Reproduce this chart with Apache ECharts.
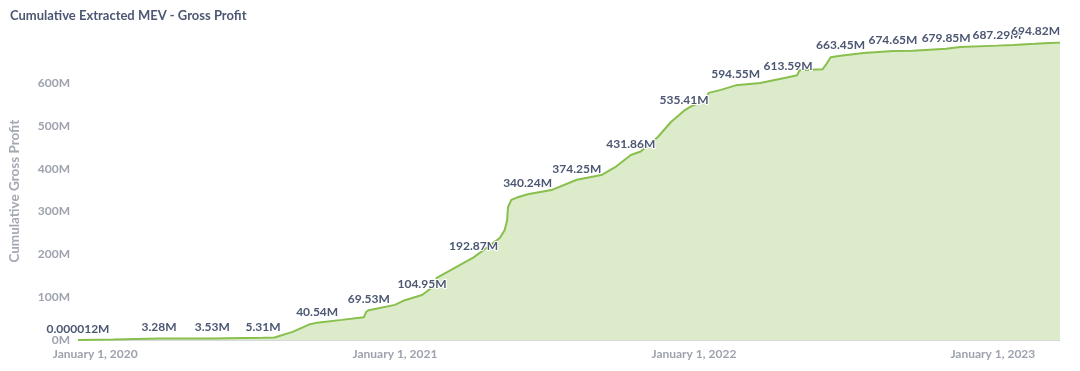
<!DOCTYPE html>
<html><head><meta charset="utf-8">
<script src="https://cdn.jsdelivr.net/npm/echarts/dist/echarts.min.js"></script>
<style>html,body{margin:0;padding:0;background:#fff}#c{width:1080px;height:371px}</style>
</head><body><div id="c"></div>
<script>
// Cumulative gross profit, in millions (M)
const dates = [
  '2019-12-11','2020-01-23','2020-02-20','2020-03-19','2020-04-23','2020-05-23','2020-06-29','2020-07-24',
  '2020-08-07','2020-08-29','2020-09-18','2020-09-28','2020-10-28','2020-11-24','2020-11-27','2020-11-30',
  '2021-01-01','2021-01-13','2021-02-03','2021-02-17','2021-02-21','2021-04-07','2021-05-09','2021-05-15',
  '2021-05-18','2021-05-19','2021-05-23','2021-05-29','2021-06-12','2021-07-11','2021-08-11','2021-09-10',
  '2021-09-28','2021-10-16','2021-10-28','2021-11-18','2021-12-04','2021-12-20','2021-12-28','2022-01-15',
  '2022-01-19','2022-02-03','2022-02-21','2022-03-23','2022-04-26','2022-05-07','2022-05-10','2022-06-07',
  '2022-06-12','2022-06-17','2022-06-29','2022-07-27','2022-09-01','2022-09-25','2022-11-05','2022-11-22',
  '2023-01-06','2023-01-26','2023-02-21','2023-03-24'
];
const values = [
  0.000012, 1.2, 2.5, 3.28, 3.4, 3.53, 4.6, 5.31,
  6.0, 19, 36, 40.54, 47, 53, 66, 69.53,
  82, 93, 104.95, 125, 145, 192.87, 238, 257,
  280, 310, 327, 332, 340.24, 350, 374.25, 385,
  405, 431.86, 440, 474, 509, 535.41, 545, 560,
  577, 584, 594.55, 600, 613.59, 618, 630, 632,
  645, 660, 663.45, 670, 674.65, 675.5, 679.85, 684,
  687.29, 689, 691.5, 694.82
];
const labelDates = [
  '2019-12-11','2020-03-19','2020-05-23','2020-07-24','2020-09-28','2020-11-30','2021-02-03','2021-04-07',
  '2021-06-12','2021-08-11','2021-10-16','2021-12-20','2022-02-21','2022-04-26','2022-06-29','2022-09-01',
  '2022-11-05','2023-01-06','2023-03-24'
];
const yTickStep = 100;
const xTickYears = [2020, 2021, 2022, 2023];

function fmtLabel(v) {
  return (v < 0.01 ? String(v) : v.toFixed(2)) + 'M';
}
const lastDate = dates[dates.length - 1];
const seriesData = dates.map((d, i) => {
  const item = { value: [d, values[i]] };
  if (labelDates.includes(d)) {
    item.label = d === lastDate
      ? { show: true, position: 'top', align: 'right', offset: [11, -2] }
      : { show: true };
  }
  return item;
});

const FONT = 'Lato';
const chart = echarts.init(document.getElementById('c'), null, { renderer: 'canvas' });
chart.setOption({
  animation: false,
  backgroundColor: '#ffffff',
  title: {
    text: 'Cumulative Extracted MEV - Gross Profit',
    left: 5, top: 4,
    textStyle: { fontFamily: FONT, fontSize: 13, fontWeight: 'bold', color: '#4c5773' }
  },
  grid: { left: 75, right: 20, top: 42.4, bottom: 31, containLabel: false },
  xAxis: {
    type: 'time',
    min: dates[0], max: lastDate,
    minInterval: 365 * 24 * 3600 * 1000,
    splitLine: { show: false },
    axisLine: { show: true, lineStyle: { color: '#d6d8dd', width: 1 } },
    axisTick: { show: false },
    axisLabel: {
      showMinLabel: false, showMaxLabel: false,
      fontFamily: FONT, fontSize: 12, fontWeight: 'bold', color: '#9da2ad', margin: 8,
      formatter: function (val) {
        const d = new Date(val);
        if (d.getMonth() === 0 && d.getDate() === 1 && xTickYears.includes(d.getFullYear())) {
          return 'January 1, ' + d.getFullYear();
        }
        return '';
      }
    }
  },
  yAxis: {
    type: 'value',
    min: 0, max: values[values.length - 1], interval: yTickStep,
    name: 'Cumulative Gross Profit',
    nameLocation: 'middle', nameGap: 56,
    nameTextStyle: { fontFamily: FONT, fontSize: 13.5, fontWeight: 'bold', color: '#a3a8b2' },
    axisLine: { show: false }, axisTick: { show: false },
    splitLine: { show: false },
    axisLabel: {
      showMaxLabel: false,
      fontFamily: FONT, fontSize: 12, fontWeight: 'bold', color: '#9da2ad', margin: 8,
      formatter: v => v + 'M'
    }
  },
  series: [{
    type: 'line',
    data: seriesData,
    showSymbol: true,
    showAllSymbol: true,
    symbol: 'circle',
    symbolSize: 0,
    lineStyle: { color: '#88bf4d', width: 2 },
    itemStyle: { color: '#88bf4d' },
    areaStyle: { color: '#dcebc9', opacity: 1 },
    label: {
      show: false, position: 'top', distance: 5,
      fontFamily: FONT, fontSize: 12, fontWeight: 'bold', color: '#4c5773',
      textBorderColor: '#ffffff', textBorderWidth: 2,
      formatter: p => fmtLabel(p.value[1])
    },
    labelLayout: { hideOverlap: false }
  }]
});
</script></body></html>
